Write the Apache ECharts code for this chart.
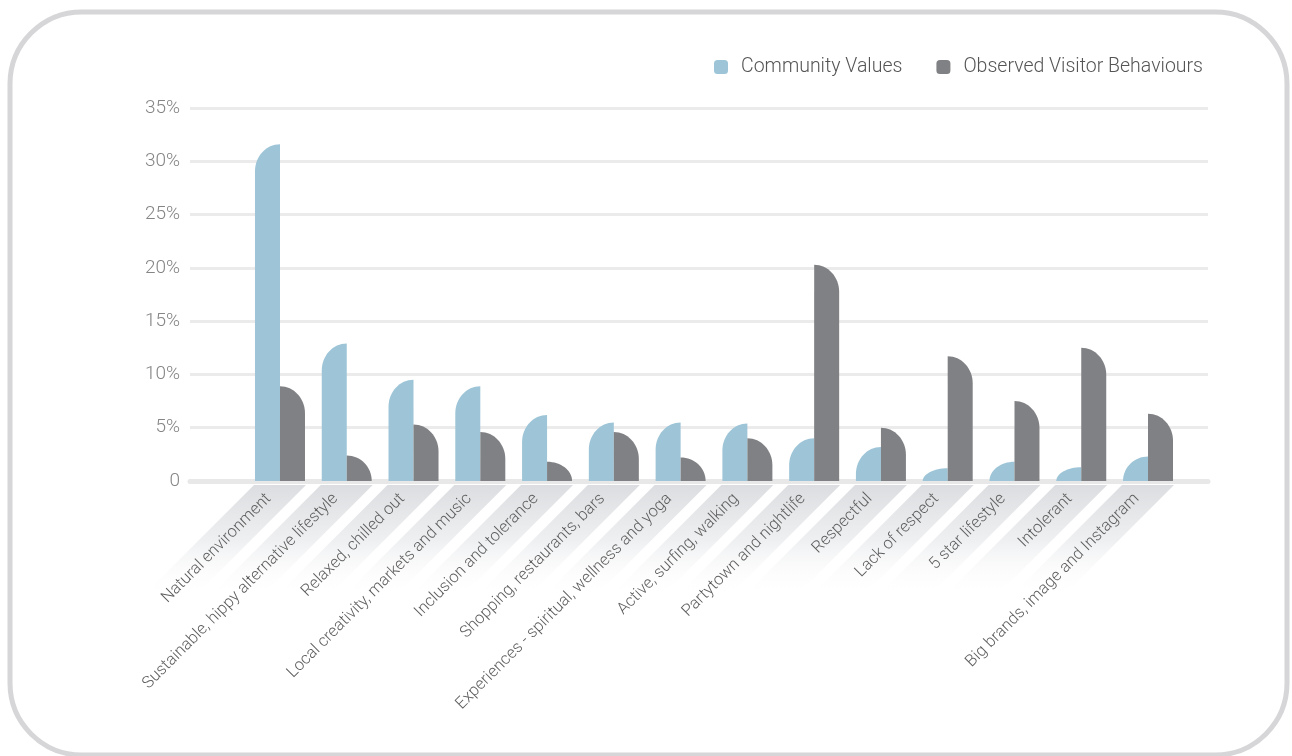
<!DOCTYPE html>
<html>
<head>
<meta charset="utf-8">
<title>Community Values vs Observed Visitor Behaviours</title>
<script src="https://cdn.jsdelivr.net/npm/echarts@6/dist/echarts.min.js"></script>
<style>
  html, body { margin: 0; padding: 0; background: #ffffff; }
  #chart { width: 1292px; height: 756px; }
</style>
</head>
<body>
<div id="chart"></div>
<script>
// Categories along the x axis
const categories = [
  'Natural environment',
  'Sustainable, hippy alternative lifestyle',
  'Relaxed, chilled out',
  'Local creativity, markets and music',
  'Inclusion and tolerance',
  'Shopping, restaurants, bars',
  'Experiences - spiritual, wellness and yoga',
  'Active, surfing, walking',
  'Partytown and nightlife',
  'Respectful',
  'Lack of respect',
  '5 star lifestyle',
  'Intolerant',
  'Big brands, image and Instagram'
];

// Percent of mentions per category
const communityValues = [31.6, 12.9, 9.5, 8.9, 6.2, 5.5, 5.5, 5.4, 4.0, 3.2, 1.2, 1.8, 1.3, 2.3];
const visitorBehaviours = [8.9, 2.4, 5.3, 4.6, 1.8, 4.6, 2.2, 4.0, 20.3, 5.0, 11.7, 7.5, 12.5, 6.3];

// Value axis ticks
const yTicks = [0, 5, 10, 15, 20, 25, 30, 35];

const seriesNames = ['Community Values', 'Observed Visitor Behaviours'];
const BLUE = '#9dc5d7';
const GREY = '#808184';
const FONT = 'Roboto, "Liberation Sans", sans-serif';

const chart = echarts.init(document.getElementById('chart'), null, { renderer: 'canvas' });

const BAR_W = 25;
const CURVE_H = 27;
const K = 0.5523;

// Bar with a quarter-ellipse top on the outer corner
function barRenderer(side) {
  return function (params, api) {
    const idx = api.value(0);
    const v = api.value(1);
    const base = api.coord([idx, 0]);
    const top = api.coord([idx, v]);
    const h = base[1] - top[1];
    const ry = Math.min(CURVE_H, h);
    const rx = BAR_W;
    let d;
    if (side === 'left') {
      const x0 = base[0] - BAR_W, x1 = base[0];
      d = 'M' + x0 + ',' + base[1] +
          'L' + x0 + ',' + (top[1] + ry) +
          'C' + x0 + ',' + (top[1] + ry - K * ry) + ' ' + (x1 - K * rx) + ',' + top[1] + ' ' + x1 + ',' + top[1] +
          'L' + x1 + ',' + base[1] + 'Z';
    } else {
      const x0 = base[0], x1 = base[0] + BAR_W;
      d = 'M' + x0 + ',' + base[1] +
          'L' + x0 + ',' + top[1] +
          'C' + (x0 + K * rx) + ',' + top[1] + ' ' + x1 + ',' + (top[1] + ry - K * ry) + ' ' + x1 + ',' + (top[1] + ry) +
          'L' + x1 + ',' + base[1] + 'Z';
    }
    return {
      type: 'path',
      shape: { pathData: d },
      style: { fill: side === 'left' ? BLUE : GREY }
    };
  };
}

// Diagonal shaded band behind each category label
function bandRenderer(params, api) {
  const idx = api.value(0);
  const base = api.coord([idx, 0]);
  const y0 = base[1] + 4;
  const half = 26;
  const len = 112;
  return {
    type: 'polygon',
    shape: {
      points: [
        [base[0] + half, y0],
        [base[0] - half, y0],
        [base[0] - half - len, y0 + len],
        [base[0] + half - len, y0 + len]
      ]
    },
    style: {
      fill: new echarts.graphic.LinearGradient(0, 0, 0, 1, [
        { offset: 0, color: 'rgba(220,221,224,1)' },
        { offset: 0.5, color: 'rgba(236,237,239,0.85)' },
        { offset: 1, color: 'rgba(255,255,255,0)' }
      ])
    }
  };
}

const option = {
  backgroundColor: '#ffffff',
  animation: false,
  textStyle: { fontFamily: FONT },
  graphic: [{
    type: 'rect',
    z: -10,
    shape: { x: 10, y: 12, width: 1277, height: 743, r: 72 },
    style: { fill: null, stroke: '#d6d6d8', lineWidth: 5 }
  }],
  legend: {
    data: seriesNames,
    right: 84,
    top: 52,
    itemWidth: 14,
    itemHeight: 14,
    itemGap: 34,
    icon: 'roundRect',
    textStyle: { fontFamily: FONT, fontSize: 19.5, color: '#555555', fontWeight: 300, padding: [0, 0, 0, 8] }
  },
  grid: [
    { left: 190, right: 84, top: 108, bottom: 275 },
    { left: 246.6, right: 110.6, top: 108, bottom: 275 }
  ],
  xAxis: [
    {
      gridIndex: 0,
      type: 'value',
      min: 0,
      max: 1,
      axisLine: { show: true, lineStyle: { color: '#e8e8e8', width: 5, cap: 'round' } },
      axisTick: { show: false },
      axisLabel: { show: false },
      splitLine: { show: false }
    },
    {
      gridIndex: 1,
      type: 'category',
      data: categories,
      z: 10,
      axisLine: { show: false },
      axisTick: { show: false },
      axisLabel: {
        interval: 0,
        rotate: 45,
        margin: 4,
        fontFamily: FONT,
        fontSize: 16.5,
        fontWeight: 300,
        color: '#5e5e5e',
        padding: [0, 16, 0, 0]
      },
      splitLine: { show: false }
    }
  ],
  yAxis: [
    {
      gridIndex: 0,
      type: 'value',
      min: yTicks[0],
      max: yTicks[yTicks.length - 1],
      interval: yTicks[1] - yTicks[0],
      axisLine: { show: false },
      axisTick: { show: false },
      axisLabel: {
        margin: 10,
        fontFamily: FONT,
        fontSize: 19,
        fontWeight: 300,
        color: '#858585',
        formatter: v => (v === 0 ? '0' : v + '%')
      },
      splitLine: { show: true, lineStyle: { color: '#ebebeb', width: 3 } }
    },
    {
      gridIndex: 1,
      type: 'value',
      min: yTicks[0],
      max: yTicks[yTicks.length - 1],
      interval: yTicks[1] - yTicks[0],
      show: false
    }
  ],
  series: [
    {
      name: 'bands',
      type: 'custom',
      xAxisIndex: 1,
      yAxisIndex: 1,
      clip: false,
      silent: true,
      z: 0,
      renderItem: bandRenderer,
      data: categories.map((c, i) => [i, 0])
    },
    {
      name: seriesNames[0],
      type: 'custom',
      xAxisIndex: 1,
      yAxisIndex: 1,
      z: 3,
      itemStyle: { color: BLUE },
      renderItem: barRenderer('left'),
      data: communityValues.map((v, i) => [i, v])
    },
    {
      name: seriesNames[1],
      type: 'custom',
      xAxisIndex: 1,
      yAxisIndex: 1,
      z: 3,
      itemStyle: { color: GREY },
      renderItem: barRenderer('right'),
      data: visitorBehaviours.map((v, i) => [i, v])
    }
  ]
};

chart.setOption(option);
</script>
</body>
</html>
